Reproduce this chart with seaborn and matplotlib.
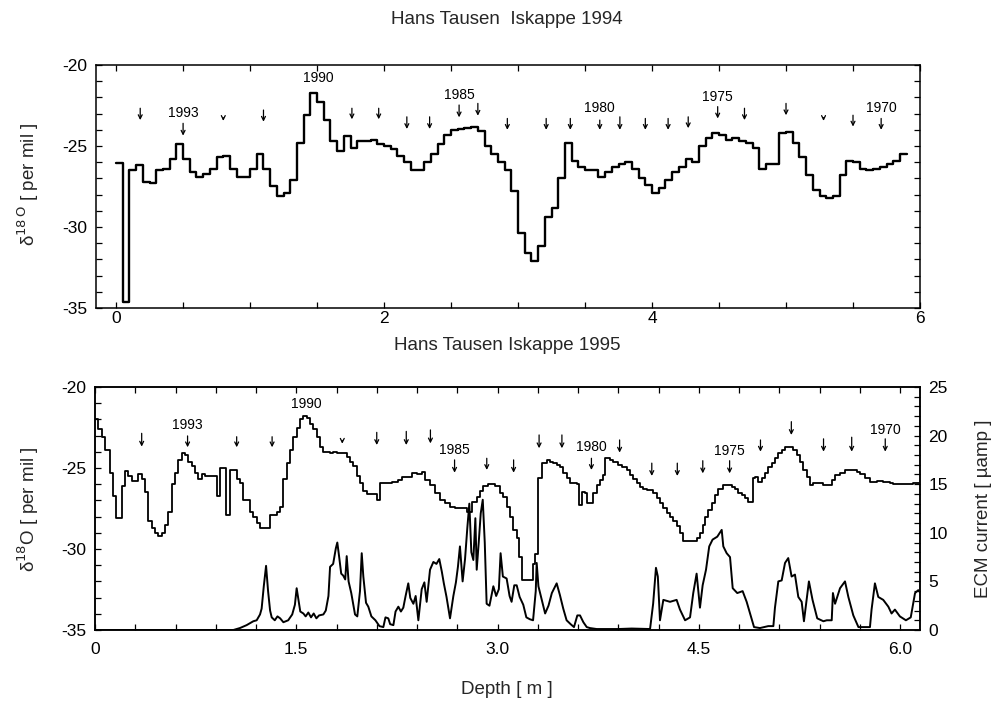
import numpy as np
import pandas as pd
import matplotlib
matplotlib.use("Agg")
import matplotlib.pyplot as plt
from matplotlib.ticker import MultipleLocator, FixedLocator, FuncFormatter
import seaborn as sns

# ---------------- data ----------------
# Top panel: Hans Tausen Iskappe 1994, delta18O in 0.05 m bins from depth 0
top_bin = 0.05
top_end = 5.9
top_d18o = [-26.05, -34.6, -26.5, -26.2, -27.2, -27.3, -26.5, -26.4, -25.8, -24.9,
            -25.8, -26.6, -26.9, -26.7, -26.4, -25.7, -25.6, -26.4, -26.9, -26.9,
            -26.4, -25.5, -26.4, -27.5, -28.1, -27.9, -27.1, -24.8, -23.1, -21.7,
            -22.3, -23.4, -24.7, -25.3, -24.4, -25.1, -24.7, -24.7, -24.6, -24.9,
            -25.0, -25.2, -25.6, -26.0, -26.5, -26.5, -26.0, -25.5, -24.9, -24.3,
            -24.0, -23.95, -23.9, -23.8, -24.1, -25.0, -25.5, -26.0, -26.5, -27.8,
            -30.4, -31.6, -32.1, -31.2, -29.4, -28.8, -27.0, -24.8, -25.9, -26.3,
            -26.5, -26.5, -26.9, -26.6, -26.3, -26.1, -26.0, -26.4, -27.0, -27.4,
            -27.9, -27.6, -27.1, -26.6, -26.3, -25.8, -26.0, -25.0, -24.5, -24.2,
            -24.3, -24.6, -24.5, -24.7, -24.8, -25.1, -26.4, -26.1, -26.1, -24.2,
            -24.15, -24.8, -25.7, -26.8, -27.7, -28.1, -28.2, -28.1, -26.8, -25.9,
            -26.0, -26.4, -26.5, -26.4, -26.3, -26.1, -25.9, -25.5]

top_arrow_depth = [0.18, 0.50, 0.80, 1.10, 1.76, 1.96, 2.17, 2.34, 2.56, 2.70, 2.92, 3.21,
                   3.39, 3.61, 3.76, 3.95, 4.12, 4.27, 4.49, 4.69, 5.00, 5.28, 5.50, 5.71]
top_arrow_tail = [-22.67, -23.6, -23.25, -22.78, -22.67, -22.67, -23.2, -23.2, -22.47, -22.37,
                  -23.3, -23.3, -23.3, -23.4, -23.2, -23.3, -23.3, -23.2, -22.57, -22.67,
                  -22.37, -23.25, -23.1, -23.3]
top_arrow_tip = [-23.4, -24.36, -23.45, -23.5, -23.35, -23.35, -23.95, -23.95, -23.23, -23.13,
                 -24.0, -24.0, -24.0, -24.0, -24.0, -24.0, -24.0, -23.9, -23.3, -23.4,
                 -23.1, -23.45, -23.8, -24.0]
top_year_text = ["1993", "1990", "1985", "1980", "1975", "1970"]
top_year_depth = [0.50, 1.51, 2.56, 3.61, 4.49, 5.71]
top_year_y = [-22.96, -20.8, -21.85, -22.65, -21.98, -22.65]

# Bottom panel: Hans Tausen Iskappe 1995, delta18O step breakpoints
bot_depth = [0.000, 0.025, 0.050, 0.075, 0.112, 0.132, 0.157, 0.199, 0.224, 0.248,
             0.273, 0.323, 0.348, 0.373, 0.398, 0.422, 0.447, 0.472, 0.497, 0.522,
             0.547, 0.571, 0.596, 0.621, 0.646, 0.671, 0.696, 0.720, 0.745, 0.770,
             0.795, 0.820, 0.907, 0.932, 0.976, 1.006, 1.056, 1.081, 1.106, 1.155,
             1.180, 1.205, 1.230, 1.304, 1.354, 1.379, 1.404, 1.429, 1.453, 1.478,
             1.503, 1.528, 1.553, 1.578, 1.602, 1.627, 1.652, 1.677, 1.702, 1.752,
             1.776, 1.801, 1.876, 1.901, 1.925, 1.950, 1.975, 2.000, 2.025, 2.099,
             2.124, 2.211, 2.261, 2.286, 2.360, 2.397, 2.435, 2.460, 2.497, 2.534,
             2.571, 2.609, 2.646, 2.683, 2.775, 2.807, 2.845, 2.870, 2.894, 2.932,
             2.981, 3.018, 3.043, 3.068, 3.093, 3.118, 3.143, 3.163, 3.180, 3.262,
             3.280, 3.304, 3.329, 3.366, 3.391, 3.416, 3.441, 3.466, 3.490, 3.515,
             3.540, 3.590, 3.605, 3.627, 3.652, 3.664, 3.714, 3.739, 3.764, 3.784,
             3.801, 3.839, 3.864, 3.901, 3.926, 3.963, 3.988, 4.013, 4.038, 4.062,
             4.087, 4.112, 4.162, 4.187, 4.211, 4.236, 4.261, 4.286, 4.311, 4.336,
             4.360, 4.385, 4.484, 4.509, 4.534, 4.546, 4.571, 4.596, 4.621, 4.646,
             4.683, 4.745, 4.770, 4.795, 4.820, 4.845, 4.870, 4.902, 4.919, 4.944,
             4.969, 4.994, 5.019, 5.044, 5.068, 5.093, 5.118, 5.143, 5.205, 5.230,
             5.255, 5.280, 5.304, 5.329, 5.354, 5.429, 5.491, 5.516, 5.553, 5.590,
             5.677, 5.702, 5.739, 5.776, 5.826, 5.876, 5.925, 5.950, 6.099]
bot_d18o = [-22.0, -22.6, -23.1, -23.9, -25.3, -26.7, -28.1, -26.1, -25.2, -25.5,
            -25.8, -25.4, -25.7, -26.5, -28.3, -28.7, -29.0, -29.2, -29.0, -28.5,
            -27.7, -26.0, -25.3, -24.5, -24.1, -24.2, -24.6, -24.9, -25.3, -25.7,
            -25.4, -25.5, -26.7, -25.0, -27.9, -25.1, -25.7, -25.9, -27.0, -27.7,
            -28.0, -28.4, -28.7, -27.9, -27.7, -27.4, -25.7, -24.7, -23.9, -23.1,
            -22.5, -22.0, -21.8, -21.9, -22.3, -22.6, -23.1, -23.7, -24.0, -24.1,
            -24.0, -24.1, -24.3, -24.6, -24.9, -25.5, -25.9, -26.4, -26.6, -27.0,
            -25.9, -25.85, -25.74, -25.54, -25.30, -25.38, -25.23, -25.74, -26.05, -26.56,
            -26.97, -27.18, -27.43, -27.49, -27.70, -27.08, -26.77, -26.40, -26.10, -25.99,
            -26.10, -26.56, -26.77, -27.39, -28.00, -28.83, -29.30, -30.50, -31.90, -30.90,
            -30.30, -25.60, -24.70, -24.50, -24.61, -24.71, -24.81, -24.96, -25.33, -25.64,
            -25.95, -25.99, -27.28, -26.46, -26.56, -27.14, -26.56, -26.05, -25.74, -25.43,
            -24.40, -24.50, -24.61, -24.81, -24.92, -25.12, -25.43, -25.70, -25.95, -26.19,
            -26.32, -26.36, -26.56, -26.87, -27.18, -27.49, -27.76, -28.00, -28.30, -28.60,
            -29.00, -29.50, -29.35, -29.03, -28.52, -28.00, -27.59, -27.18, -26.67, -26.32,
            -26.05, -26.15, -26.32, -26.52, -26.67, -26.87, -27.08, -25.64, -25.54, -25.85,
            -25.64, -25.33, -24.92, -24.67, -24.40, -24.09, -23.88, -23.72, -23.88, -24.19,
            -24.61, -25.12, -25.54, -26.05, -25.95, -26.05, -25.74, -25.43, -25.28, -25.12,
            -25.23, -25.38, -25.64, -25.85, -25.79, -25.85, -25.90, -25.99, -25.95]
bot_end = 6.144

# ECM current (right axis)
ecm_depth = [0.000, 1.031, 1.080, 1.130, 1.180, 1.205, 1.230, 1.242, 1.258, 1.275,
             1.290, 1.305, 1.317, 1.340, 1.360, 1.380, 1.404, 1.440, 1.470, 1.490,
             1.503, 1.515, 1.530, 1.553, 1.570, 1.590, 1.610, 1.630, 1.650, 1.670,
             1.702, 1.720, 1.740, 1.752, 1.775, 1.795, 1.806, 1.820, 1.835, 1.850,
             1.865, 1.876, 1.890, 1.910, 1.938, 1.955, 1.975, 1.988, 2.000, 2.020,
             2.037, 2.060, 2.090, 2.120, 2.149, 2.165, 2.186, 2.200, 2.224, 2.240,
             2.261, 2.280, 2.298, 2.315, 2.335, 2.350, 2.373, 2.390, 2.410, 2.435,
             2.455, 2.472, 2.497, 2.522, 2.545, 2.566, 2.585, 2.600, 2.620, 2.646,
             2.671, 2.690, 2.705, 2.720, 2.740, 2.758, 2.775, 2.790, 2.805, 2.820,
             2.835, 2.845, 2.860, 2.875, 2.890, 2.905, 2.919, 2.940, 2.969, 2.990,
             3.010, 3.023, 3.040, 3.068, 3.090, 3.105, 3.125, 3.143, 3.165, 3.192,
             3.215, 3.242, 3.265, 3.285, 3.292, 3.305, 3.330, 3.355, 3.380, 3.405,
             3.441, 3.465, 3.490, 3.515, 3.545, 3.570, 3.595, 3.615, 3.640, 3.665,
             3.689, 3.739, 3.900, 4.000, 4.137, 4.160, 4.181, 4.195, 4.211, 4.236,
             4.286, 4.335, 4.360, 4.398, 4.435, 4.459, 4.484, 4.509, 4.529, 4.554,
             4.578, 4.603, 4.638, 4.671, 4.683, 4.708, 4.733, 4.753, 4.787, 4.827,
             4.857, 4.882, 4.912, 4.956, 5.018, 5.056, 5.068, 5.093, 5.118, 5.143,
             5.167, 5.192, 5.217, 5.242, 5.267, 5.284, 5.321, 5.348, 5.383, 5.429,
             5.454, 5.491, 5.500, 5.516, 5.553, 5.590, 5.615, 5.652, 5.690, 5.776,
             5.788, 5.813, 5.838, 5.875, 5.913, 5.937, 5.962, 5.999, 6.044, 6.080,
             6.112, 6.136, 6.149]
ecm_value = [0.0, 0.0, 0.2, 0.5, 0.9, 1.0, 1.6, 2.2, 4.5, 6.6,
             4.0, 2.0, 1.3, 1.0, 1.4, 1.2, 0.8, 1.0, 1.6, 2.6,
             4.3, 3.2, 1.9, 1.7, 1.4, 1.8, 1.3, 1.7, 1.2, 1.5,
             1.6, 2.0, 3.5, 6.5, 6.8, 8.4, 9.0, 7.5, 5.8, 5.6,
             5.2, 7.6, 5.0, 3.8, 1.6, 1.4, 4.0, 7.9, 5.5, 2.8,
             2.4, 1.4, 1.0, 0.4, 0.3, 1.3, 1.2, 0.6, 0.5, 1.9,
             2.4, 1.9, 2.3, 3.5, 4.8, 3.3, 2.7, 3.5, 1.0, 4.2,
             4.9, 2.9, 6.2, 7.0, 6.8, 7.3, 6.0, 4.8, 3.4, 1.2,
             3.5, 4.9, 6.5, 8.6, 5.0, 7.3, 10.5, 13.0, 8.0, 7.2,
             11.5, 6.2, 9.0, 12.0, 13.4, 9.0, 2.7, 2.5, 4.5, 3.5,
             4.2, 7.9, 5.5, 5.3, 3.5, 2.9, 4.6, 4.6, 3.4, 2.6,
             1.3, 1.1, 1.0, 4.0, 6.9, 4.5, 3.1, 1.7, 2.5, 3.8,
             4.8, 3.6, 2.2, 1.0, 0.6, 0.3, 1.5, 1.5, 0.8, 0.3,
             0.2, 0.1, 0.1, 0.15, 0.1, 2.7, 6.4, 5.5, 1.0, 3.1,
             2.9, 3.1, 2.1, 1.0, 1.3, 3.8, 5.8, 2.3, 4.6, 6.2,
             8.6, 9.3, 9.6, 10.3, 8.6, 7.9, 7.5, 4.3, 3.8, 4.0,
             2.9, 1.7, 0.3, 0.2, 0.4, 0.4, 2.3, 5.0, 5.1, 6.9,
             7.4, 5.5, 5.7, 3.4, 2.9, 0.9, 5.0, 3.1, 1.2, 0.9,
             1.0, 1.0, 3.8, 2.7, 4.3, 5.0, 3.4, 1.5, 0.3, 0.3,
             2.1, 4.8, 3.4, 3.1, 2.4, 1.7, 2.1, 1.4, 1.0, 1.3,
             3.8, 4.1, 3.9]

bot_arrow_depth = [0.348, 0.69, 1.056, 1.32, 1.843, 2.10, 2.32, 2.50, 2.68, 2.92, 3.12, 3.31,
                   3.48, 3.70, 3.91, 4.15, 4.34, 4.53, 4.73, 4.96, 5.19, 5.43, 5.64, 5.89]
bot_arrow_tail = [-22.86, -23.02, -23.07, -23.07, -23.3, -22.8, -22.74, -22.65, -24.5, -24.4,
                  -24.5, -22.96, -22.96, -24.4, -23.27, -24.7, -24.7, -24.55, -24.55, -23.27,
                  -22.14, -23.2, -23.1, -23.2]
bot_arrow_tip = [-23.68, -23.72, -23.72, -23.72, -23.5, -23.58, -23.58, -23.48, -25.29, -25.12,
                 -25.29, -23.78, -23.78, -25.12, -24.05, -25.49, -25.49, -25.33, -25.33, -23.99,
                 -22.96, -23.99, -23.99, -23.99]
bot_year_text = ["1993", "1990", "1985", "1980", "1975", "1970"]
bot_year_depth = [0.69, 1.573, 2.68, 3.70, 4.73, 5.89]
bot_year_y = [-22.35, -21.05, -23.9, -23.7, -23.93, -22.65]

# ---------------- style ----------------
sns.set_theme(style="ticks")
plt.rcParams["font.family"] = ["Liberation Sans", "DejaVu Sans"]
plt.rcParams["axes.linewidth"] = 1.1
plt.rcParams["axes.edgecolor"] = "black"
plt.rcParams["xtick.color"] = "black"
plt.rcParams["ytick.color"] = "black"

W, H = 993, 701
fig = plt.figure(figsize=(W / 100, H / 100), dpi=100)
fig.patch.set_facecolor("white")

def fx(px):
    return px / W

def fy(py):
    return 1 - py / H

ax1 = fig.add_axes([fx(96), fy(308), fx(920) - fx(96), fy(65) - fy(308)])
ax2 = fig.add_axes([fx(95), fy(630), fx(920) - fx(95), fy(387) - fy(630)])
ax2r = ax2.twinx()

# ---------------- top panel ----------------
top_x = [i * top_bin for i in range(len(top_d18o))] + [top_end]
top_y = list(top_d18o) + [top_d18o[-1]]
df_top = pd.DataFrame({"depth": top_x, "d18o": top_y})
sns.lineplot(data=df_top, x="depth", y="d18o", ax=ax1, color="black", lw=1.7,
             drawstyle="steps-post", estimator=None, sort=False)

ax1.set_xlim(-0.15, 6.0)
ax1.set_ylim(-35, -20)
ax1.xaxis.set_major_locator(FixedLocator([0, 2, 4, 6]))
ax1.xaxis.set_minor_locator(MultipleLocator(0.5))
ax1.yaxis.set_major_locator(MultipleLocator(5))
ax1.yaxis.set_minor_locator(MultipleLocator(1))
ax1.xaxis.set_major_formatter(FuncFormatter(lambda v, p: f"{v:.0f}"))
ax1.yaxis.set_major_formatter(FuncFormatter(lambda v, p: f"{v:.0f}"))
ax1.tick_params(which="both", direction="in", top=True, right=True,
                width=0.9, labelsize=12.5, length=4)
ax1.tick_params(axis="x", pad=2)
ax1.tick_params(axis="y", pad=6)
ax1.set_xlabel("")
ax1.set_ylabel("")

for d, t0, t1 in zip(top_arrow_depth, top_arrow_tail, top_arrow_tip):
    ax1.annotate("", xy=(d, t1), xytext=(d, t0),
                 arrowprops=dict(arrowstyle="->", lw=0.9, color="black",
                                 shrinkA=0, shrinkB=0, mutation_scale=7))
for s, d, yv in zip(top_year_text, top_year_depth, top_year_y):
    ax1.text(d, yv, s, ha="center", va="center", fontsize=10, color="black")

# ---------------- bottom panel ----------------
bx = list(bot_depth) + [bot_end]
by = list(bot_d18o) + [bot_d18o[-1]]
df_bot = pd.DataFrame({"depth": bx, "d18o": by})
sns.lineplot(data=df_bot, x="depth", y="d18o", ax=ax2, color="black", lw=1.3,
             drawstyle="steps-post", estimator=None, sort=False)

df_ecm = pd.DataFrame({"depth": ecm_depth, "ecm": ecm_value})
sns.lineplot(data=df_ecm, x="depth", y="ecm", ax=ax2r, color="black", lw=1.4,
             estimator=None, sort=False)

ax2.set_xlim(0, 6.149)
ax2.set_ylim(-35, -20)
ax2r.set_ylim(0, 25)
ax2.xaxis.set_major_locator(MultipleLocator(1.5))
ax2.xaxis.set_minor_locator(MultipleLocator(0.3))
ax2.xaxis.set_major_formatter(FuncFormatter(lambda v, p: "0" if abs(v) < 1e-9 else f"{v:.1f}"))
ax2.yaxis.set_major_locator(MultipleLocator(5))
ax2.yaxis.set_minor_locator(MultipleLocator(1))
ax2.yaxis.set_major_formatter(FuncFormatter(lambda v, p: f"{v:.0f}"))
ax2.tick_params(which="both", direction="in", top=True, right=False,
                width=0.9, labelsize=12.5, length=4)
ax2.tick_params(axis="x", pad=9)
ax2.tick_params(axis="y", pad=6)
ax2r.yaxis.set_major_locator(MultipleLocator(5))
ax2r.yaxis.set_minor_locator(MultipleLocator(1))
ax2r.tick_params(which="both", direction="in", width=0.9, labelsize=12.5, length=4, pad=6)
for a in (ax2, ax2r):
    a.set_xlabel("")
    a.set_ylabel("")
for sp in ax2r.spines.values():
    sp.set_linewidth(1.1)

for d, t0, t1 in zip(bot_arrow_depth, bot_arrow_tail, bot_arrow_tip):
    ax2.annotate("", xy=(d, t1), xytext=(d, t0),
                 arrowprops=dict(arrowstyle="->", lw=0.9, color="black",
                                 shrinkA=0, shrinkB=0, mutation_scale=7))
for s, d, yv in zip(bot_year_text, bot_year_depth, bot_year_y):
    ax2.text(d, yv, s, ha="center", va="center", fontsize=10, color="black")

# ---------------- texts ----------------
fig.text(fx(507), fy(20), "Hans Tausen  Iskappe 1994", ha="center", va="center", fontsize=13.5)
fig.text(fx(507), fy(345), "Hans Tausen Iskappe 1995", ha="center", va="center", fontsize=13.5)
fig.text(fx(507), fy(690), "Depth [ m ]", ha="center", va="center", fontsize=13.5)
fig.text(fx(28), fy(184), "δ$^{18\\,\\mathrm{O}}$ [ per mil ]", ha="center", va="center",
         rotation=90, fontsize=13.5)
fig.text(fx(28), fy(509), "δ$^{18}$O [ per mil ]", ha="center", va="center",
         rotation=90, fontsize=13.5)
fig.text(fx(983), fy(509), "ECM current [ µamp ]", ha="center", va="center",
         rotation=90, fontsize=13.5)

plt.rcParams["mathtext.fontset"] = "custom"
plt.rcParams["mathtext.rm"] = "Liberation Sans"

fig.savefig("out.png", dpi=100, facecolor="white")
